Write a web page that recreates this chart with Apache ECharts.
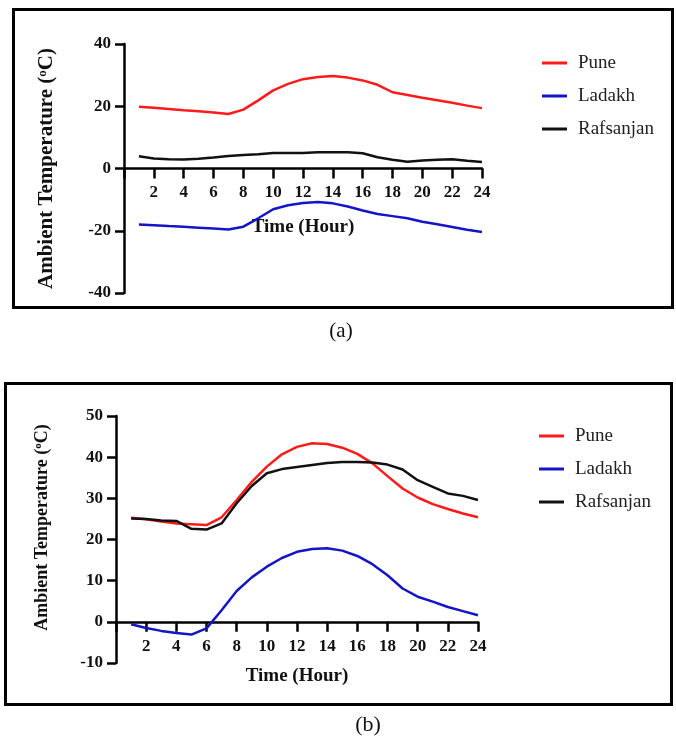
<!DOCTYPE html>
<html>
<head>
<meta charset="utf-8">
<script src="https://cdn.jsdelivr.net/npm/echarts@6/dist/echarts.min.js"></script>
<style>
  html, body { margin: 0; padding: 0; background: #fff; }
  #chart { width: 676px; height: 740px; }
</style>
</head>
<body>
<div id="chart"></div>
<script>
// Hourly ambient temperature (°C) for three locations, two seasons.
const hours = [1, 2, 3, 4, 5, 6, 7, 8, 9, 10, 11, 12, 13, 14, 15, 16, 17, 18, 19, 20, 21, 22, 23, 24];

// Panel (a)
const puneA      = [19.8, 19.5, 19.1, 18.7, 18.4, 18.0, 17.5, 18.9, 21.9, 25.1, 27.2, 28.7, 29.4, 29.7, 29.2, 28.3, 26.9, 24.5, 23.6, 22.7, 21.9, 21.1, 20.2, 19.4];
const ladakhA    = [-18.0, -18.2, -18.5, -18.7, -19.0, -19.3, -19.6, -18.7, -16.0, -13.1, -11.8, -11.1, -10.8, -11.2, -12.2, -13.5, -14.6, -15.3, -16.0, -17.1, -17.9, -18.8, -19.7, -20.4];
const rafsanjanA = [3.9, 3.2, 3.0, 2.9, 3.1, 3.5, 4.0, 4.3, 4.6, 5.0, 5.0, 5.0, 5.2, 5.2, 5.2, 4.9, 3.6, 2.8, 2.2, 2.6, 2.8, 3.0, 2.5, 2.1];

// Panel (b)
const puneB      = [25.3, 24.9, 24.4, 23.9, 23.7, 23.5, 25.4, 29.6, 34.0, 37.7, 40.7, 42.5, 43.4, 43.2, 42.3, 40.8, 38.5, 35.4, 32.4, 30.2, 28.6, 27.4, 26.3, 25.4];
const ladakhB    = [-0.6, -1.5, -2.2, -2.7, -3.1, -1.6, 2.8, 7.5, 10.8, 13.4, 15.5, 17.0, 17.7, 17.9, 17.3, 16.0, 14.0, 11.3, 8.1, 6.1, 4.9, 3.6, 2.6, 1.6];
const rafsanjanB = [25.1, 25.0, 24.6, 24.5, 22.6, 22.4, 23.9, 28.8, 33.0, 36.1, 37.1, 37.6, 38.1, 38.6, 38.8, 38.8, 38.7, 38.2, 37.0, 34.4, 32.8, 31.2, 30.6, 29.6];

const seriesNames = ['Pune', 'Ladakh', 'Rafsanjan'];
const seriesColors = ['#ff1a1a', '#1414c8', '#111111'];
const captions = ['(a)', '(b)'];
const xAxisTitle = 'Time (Hour)';

const SERIF = '"Liberation Serif", "Times New Roman", serif';

const grids = [
  { left: 124, top: 44, width: 358, height: 249 },
  { left: 116, top: 416, width: 362, height: 247 }
];
const yRanges = [
  { min: -40, max: 40, interval: 20 },
  { min: -10, max: 50, interval: 10 }
];

function pairs(vals) {
  return hours.map((h, i) => [h, vals[i]]);
}

// The time axis sits on the zero line of the temperature axis, labels included.
function makeXAxis(gridIndex, nameGap) {
  const g = grids[gridIndex], r = yRanges[gridIndex];
  const zeroLift = g.height * (0 - r.min) / (r.max - r.min);
  return {
    type: 'value', gridIndex: gridIndex, position: 'bottom',
    offset: -zeroLift,
    min: 0, max: 24, interval: 2,
    name: xAxisTitle, nameLocation: 'middle', nameGap: nameGap,
    nameTextStyle: { fontFamily: SERIF, fontWeight: 'bold', fontSize: 19, color: '#111' },
    axisLine: { onZero: false, lineStyle: { color: '#000', width: 2.5 } },
    axisTick: { show: true, inside: false, length: 10, lineStyle: { color: '#000', width: 2.5 } },
    axisLabel: {
      fontFamily: SERIF, fontWeight: 'bold', fontSize: 17, color: '#111', margin: 16,
      formatter: v => (v === 0 ? '' : String(v))
    },
    splitLine: { show: false }
  };
}

function makeYAxis(gridIndex, nameSize, nameGap, namePad) {
  const r = yRanges[gridIndex];
  return {
    type: 'value', gridIndex: gridIndex,
    min: r.min, max: r.max, interval: r.interval,
    name: 'Ambient Temperature ({sup|o}C)', nameLocation: 'middle', nameGap: nameGap,
    nameTextStyle: {
      fontFamily: SERIF, fontWeight: 'bold', fontSize: nameSize, color: '#111',
      padding: namePad,
      rich: { sup: { fontFamily: SERIF, fontWeight: 'bold', fontSize: Math.round(nameSize * 0.62), color: '#111', verticalAlign: 'top', lineHeight: nameSize } }
    },
    axisLine: { show: true, onZero: false, lineStyle: { color: '#000', width: 2.5 } },
    axisTick: { show: true, inside: false, length: 9, lineStyle: { color: '#000', width: 2.5 } },
    axisLabel: { fontFamily: SERIF, fontWeight: 'bold', fontSize: 17, color: '#111', margin: 13 },
    splitLine: { show: false }
  };
}

function makeSeries(axisIndex, datasets) {
  return datasets.map((vals, k) => ({
    type: 'line', name: seriesNames[k],
    xAxisIndex: axisIndex, yAxisIndex: axisIndex,
    data: pairs(vals),
    showSymbol: false, symbol: 'none',
    lineStyle: { color: seriesColors[k], width: 2.5 },
    itemStyle: { color: seriesColors[k] },
    z: 3
  }));
}

function makeLegend(left, top) {
  return {
    orient: 'vertical', left: left, top: top,
    icon: 'rect', itemWidth: 25, itemHeight: 3, itemGap: 13,
    data: seriesNames,
    textStyle: { fontFamily: SERIF, fontSize: 19, color: '#222', lineHeight: 20, padding: [0, 0, 0, 6] },
    selectedMode: false
  };
}

const chart = echarts.init(document.getElementById('chart'), null, { renderer: 'canvas' });

chart.setOption({
  backgroundColor: '#fff',
  animation: false,
  grid: grids,
  xAxis: [makeXAxis(0, 49), makeXAxis(1, 45)],
  yAxis: [makeYAxis(0, 21, 67, 0), makeYAxis(1, 18, 65, [0, 0, 0, 24])],
  legend: [makeLegend(537, 48), makeLegend(534, 421)],
  series: [].concat(
    makeSeries(0, [puneA, ladakhA, rafsanjanA]),
    makeSeries(1, [puneB, ladakhB, rafsanjanB])
  ),
  graphic: [
    { type: 'rect', shape: { x: 13.5, y: 9.5, width: 659, height: 298 },
      style: { fill: 'none', stroke: '#000', lineWidth: 3 }, z: 10 },
    { type: 'rect', shape: { x: 5.5, y: 383.5, width: 666, height: 321 },
      style: { fill: 'none', stroke: '#000', lineWidth: 3 }, z: 10 },
    { type: 'text',
      style: { text: captions[0], font: '21px ' + SERIF, fill: '#111', x: 341, y: 331, textAlign: 'center', textVerticalAlign: 'middle' } },
    { type: 'text',
      style: { text: captions[1], font: '22px ' + SERIF, fill: '#111', x: 368, y: 725, textAlign: 'center', textVerticalAlign: 'middle' } }
  ]
});
</script>
</body>
</html>
